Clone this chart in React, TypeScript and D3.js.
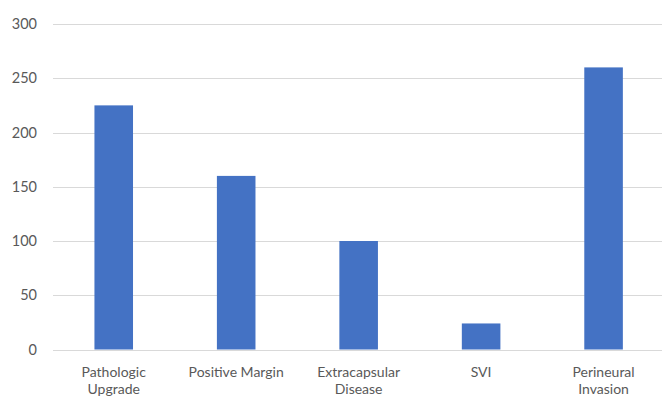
import React from "react";
import * as d3 from "d3";

const categories: string[][] = [
  ["Pathologic", "Upgrade"],
  ["Positive Margin"],
  ["Extracapsular", "Disease"],
  ["SVI"],
  ["Perineural", "Invasion"],
];
const values: number[] = [225, 160, 100, 24, 260];
const yTicks: number[] = [0, 50, 100, 150, 200, 250, 300];

const W = 662;
const H = 399;

export default function App() {
  const x = d3
    .scaleBand<number>()
    .domain(d3.range(categories.length))
    .range([52.5, 664.8])
    .paddingInner(0.685)
    .paddingOuter(0.3425);
  const y = d3.scaleLinear().domain([0, 300]).range([349.5, 24]);
  const font = "Lato, 'Open Sans', sans-serif";
  return (
    <div style={{ position: "absolute", left: 0, top: 0 }}>
      <svg width={W} height={H} style={{ display: "block", background: "#fff" }}>
        {yTicks.map((t) => (
          <g key={t}>
            <line x1={53} x2={W} y1={Math.round(y(t)) + 0.5} y2={Math.round(y(t)) + 0.5} stroke="#d9d9d9" strokeWidth={1.2} />
            <text x={37} y={y(t)} dy="0.35em" textAnchor="end" fontFamily={font} fontSize={14.5} fill="#595959">
              {t}
            </text>
          </g>
        ))}
        {values.map((v, i) => (
          <rect key={i} x={x(i)} y={y(v)} width={x.bandwidth()} height={y(0) - y(v)} fill="#4472C4" />
        ))}
        {categories.map((lines, i) => (
          <text key={i} textAnchor="middle" fontFamily={font} fontSize={14} fill="#595959">
            {lines.map((l, j) => (
              <tspan key={j} x={(x(i) as number) + x.bandwidth() / 2} y={377 + j * 17}>
                {l}
              </tspan>
            ))}
          </text>
        ))}
      </svg>
    </div>
  );
}
